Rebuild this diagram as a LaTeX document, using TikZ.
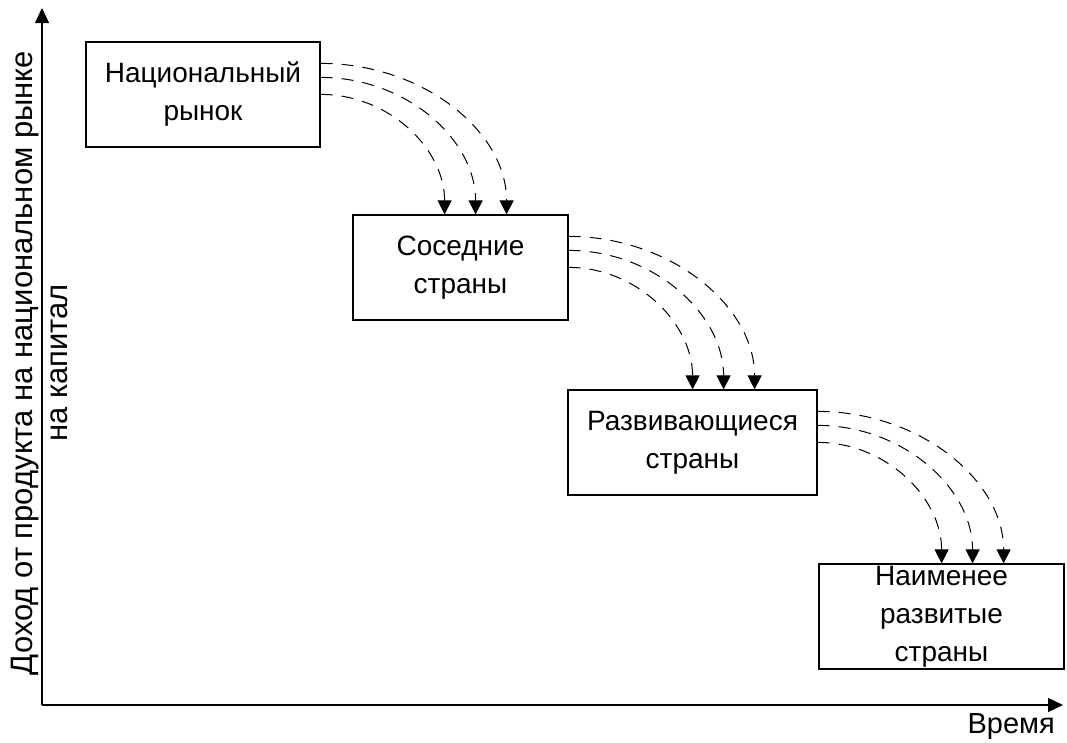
\documentclass[tikz,border=0pt]{standalone}
\usepackage{fontspec}
\setmainfont{Liberation Sans}
\usetikzlibrary{arrows.meta, calc}

\tikzset{
  box/.style = {draw, line width=1.2pt, align=center, inner sep=0pt,
                minimum height=105, font=\fontsize{28}{38}\selectfont},
  axislabel/.style = {align=center, inner sep=0pt},
  flow/.style = {line width=1pt, dash pattern=on 12pt off 9pt,
                 -{Triangle[width=14pt,length=14pt]}},
  axis/.style = {line width=1.2pt, -{Triangle[width=14pt,length=15pt]}}
}

\begin{document}
\begin{tikzpicture}[x=1pt, y=-1pt]
    \useasboundingbox (0,0) rectangle (1067,742);
    \fill [white] (0,0) rectangle (1067,742);
    % axes
    \coordinate (O) at (42,705);
    \coordinate (Ytop) at (42,8);
    \coordinate (Xend) at (1063,705);
    \draw [axis] (O) -- (Ytop);
    \draw [axis] (O) -- (Xend);
    \node (ylab) [axislabel, rotate=90, font=\fontsize{31}{35}\selectfont] at (39.5,363)
        {Доход от продукта на национальном рынке\\на капитал};
    \node (tlab) [axislabel, anchor=base east, font=\fontsize{29}{35}\selectfont] at (1055,733) {Время};
    % stages
    \node (nat)   [box, minimum width=234] at (203,94.5)   {Национальный\\рынок};
    \node (near)  [box, minimum width=215] at (460.5,267.5) {Соседние\\страны};
    \node (dev)   [box, minimum width=249] at (692.5,442.5) {Развивающиеся\\страны};
    \node (least) [box, minimum width=245] at (941.5,616.5) {Наименее\\развитые\\страны};
    % spreading to the next market
    \foreach \a/\b in {nat/near, near/dev, dev/least} {
        \foreach \dy/\dx in {22/186, 36/155, 53/124} {
            \coordinate (s) at ([yshift=-\dy pt]\a.north east);
            \coordinate (t) at ([xshift=\dx pt]\a.north east);
            \coordinate (e) at (t |- \b.north);
            \draw [flow] (s) .. controls ($(s)+(0.55*\dx,0)$)
                and ($(e)+(0,{-0.55*(173-\dy)})$) .. (e);
        }
    }
\end{tikzpicture}
\end{document}
